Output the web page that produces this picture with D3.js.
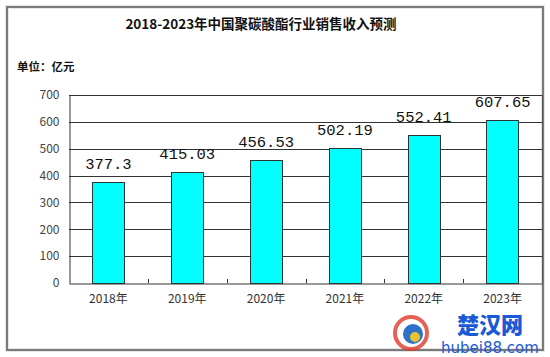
<!DOCTYPE html>
<html><head><meta charset="utf-8">
<script src="https://cdn.jsdelivr.net/npm/d3@7"></script>
<style>body{margin:0;background:#fff}svg{display:block}</style>
</head><body>
<svg id="c" width="550" height="357"></svg>
<script>
const title = "2018-2023年中国聚碳酸酯行业销售收入预测";
const unitLabel = "单位：亿元";
const categories = ["2018年","2019年","2020年","2021年","2022年","2023年"];
const values = [377.3, 415.03, 456.53, 502.19, 552.41, 607.65];
const valueLabels = ["377.3","415.03","456.53","502.19","552.41","607.65"];
const yTicks = [0,100,200,300,400,500,600,700];

const svg = d3.select("#c");
const W = 550, H = 357;
const m = {left:69, right:8, top:95, bottom:74};
const x = d3.scaleBand().domain(categories).range([m.left, W - m.right]).paddingInner(0.59).paddingOuter(0.295);
const xb = d3.scaleBand().domain(categories).range([m.left, W - m.right]);
const y = d3.scaleLinear().domain([0,700]).range([H - m.bottom, m.top]);

// outer frame
svg.append("rect").attr("x",7).attr("y",7).attr("width",536).attr("height",343)
  .attr("fill","none").attr("stroke","#e6e6e6").attr("stroke-width",4);
svg.append("rect").attr("x",7).attr("y",7).attr("width",536).attr("height",343)
  .attr("fill","none").attr("stroke","#7a7a7a").attr("stroke-width",2);

// title
svg.append("text").attr("x",261).attr("y",29).attr("text-anchor","middle")
  .attr("font-family","'Noto Sans CJK SC', sans-serif").attr("font-weight","bold")
  .attr("font-size",13.5).attr("fill","#111").text(title);
svg.append("text").attr("x",17).attr("y",71)
  .attr("font-family","'Noto Sans CJK SC', sans-serif").attr("font-weight","bold")
  .attr("font-size",11.5).attr("fill","#111").text(unitLabel);

// gridlines
svg.append("g").selectAll("line").data(yTicks.filter(d=>d>0)).join("line")
  .attr("x1",m.left).attr("x2",W-m.right)
  .attr("y1",d=>Math.round(y(d))+0.5).attr("y2",d=>Math.round(y(d))+0.5)
  .attr("stroke","#333").attr("stroke-width",1);

// plot right border
svg.append("line").attr("x1",W-m.right+0.5).attr("x2",W-m.right+0.5)
  .attr("y1",y(700)).attr("y2",y(0)).attr("stroke","#555");

// y axis
const ya = svg.append("g").attr("transform",`translate(${m.left+0.5},0)`)
  .call(d3.axisLeft(y).tickValues(yTicks).tickSize(0).tickPadding(10));
ya.select(".domain").attr("stroke","#333");
ya.selectAll("text").attr("font-family","'Noto Sans CJK SC', sans-serif").attr("font-size",12).attr("fill","#444");

// bars
svg.append("g").selectAll("rect").data(values).join("rect")
  .attr("x",(d,i)=>Math.round(x(categories[i]))+0.5)
  .attr("y",d=>Math.round(y(d))+0.5)
  .attr("width",Math.round(x.bandwidth()))
  .attr("height",d=>Math.round(y(0))-Math.round(y(d)))
  .attr("fill","#00ffff").attr("stroke","#333").attr("stroke-width",1);

// x axis
const xa = svg.append("g").attr("transform",`translate(0,${Math.round(y(0))+0.5})`)
  .call(d3.axisBottom(xb).tickSize(0).tickPadding(11));
xa.select(".domain").attr("stroke","#333");
xa.selectAll("text").attr("font-family","'Noto Sans CJK SC', sans-serif").attr("font-size",12).attr("fill","#333");
// inside tick marks at band boundaries
svg.append("g").selectAll("line").data(categories.slice(1)).join("line")
  .attr("x1",d=>Math.round(xb(d))+0.5).attr("x2",d=>Math.round(xb(d))+0.5)
  .attr("y1",y(0)-4).attr("y2",y(0)).attr("stroke","#333");

// value labels
svg.append("g").selectAll("text").data(values).join("text")
  .attr("x",(d,i)=>x(categories[i])+x.bandwidth()/2)
  .attr("y",d=>y(d)-13)
  .attr("text-anchor","middle")
  .attr("font-family","'Liberation Mono', monospace").attr("font-size",15.5)
  .attr("fill","#111").text((d,i)=>valueLabels[i]);

// watermark
const wm = svg.append("g");
wm.append("ellipse").attr("cx",411).attr("cy",333).attr("rx",16).attr("ry",16)
  .attr("fill","none").attr("stroke","#e03a2a").attr("stroke-width",4).attr("opacity",0.8);
wm.append("circle").attr("cx",413).attr("cy",334).attr("r",10).attr("fill","#2c72c8");
wm.append("circle").attr("cx",415).attr("cy",337).attr("r",5).attr("fill","#e8c530");
wm.append("text").attr("x",490).attr("y",333).attr("text-anchor","middle")
  .attr("font-family","'Noto Sans CJK SC', sans-serif").attr("font-weight","900")
  .attr("font-size",22).attr("fill","#1a5ad6").text("楚汉网");
wm.append("text").attr("x",490).attr("y",353).attr("text-anchor","middle")
  .attr("font-family","'DejaVu Sans', sans-serif")
  .attr("font-size",15).attr("fill","#1a5ad6").text("hubei88.com");
</script>
</body></html>
